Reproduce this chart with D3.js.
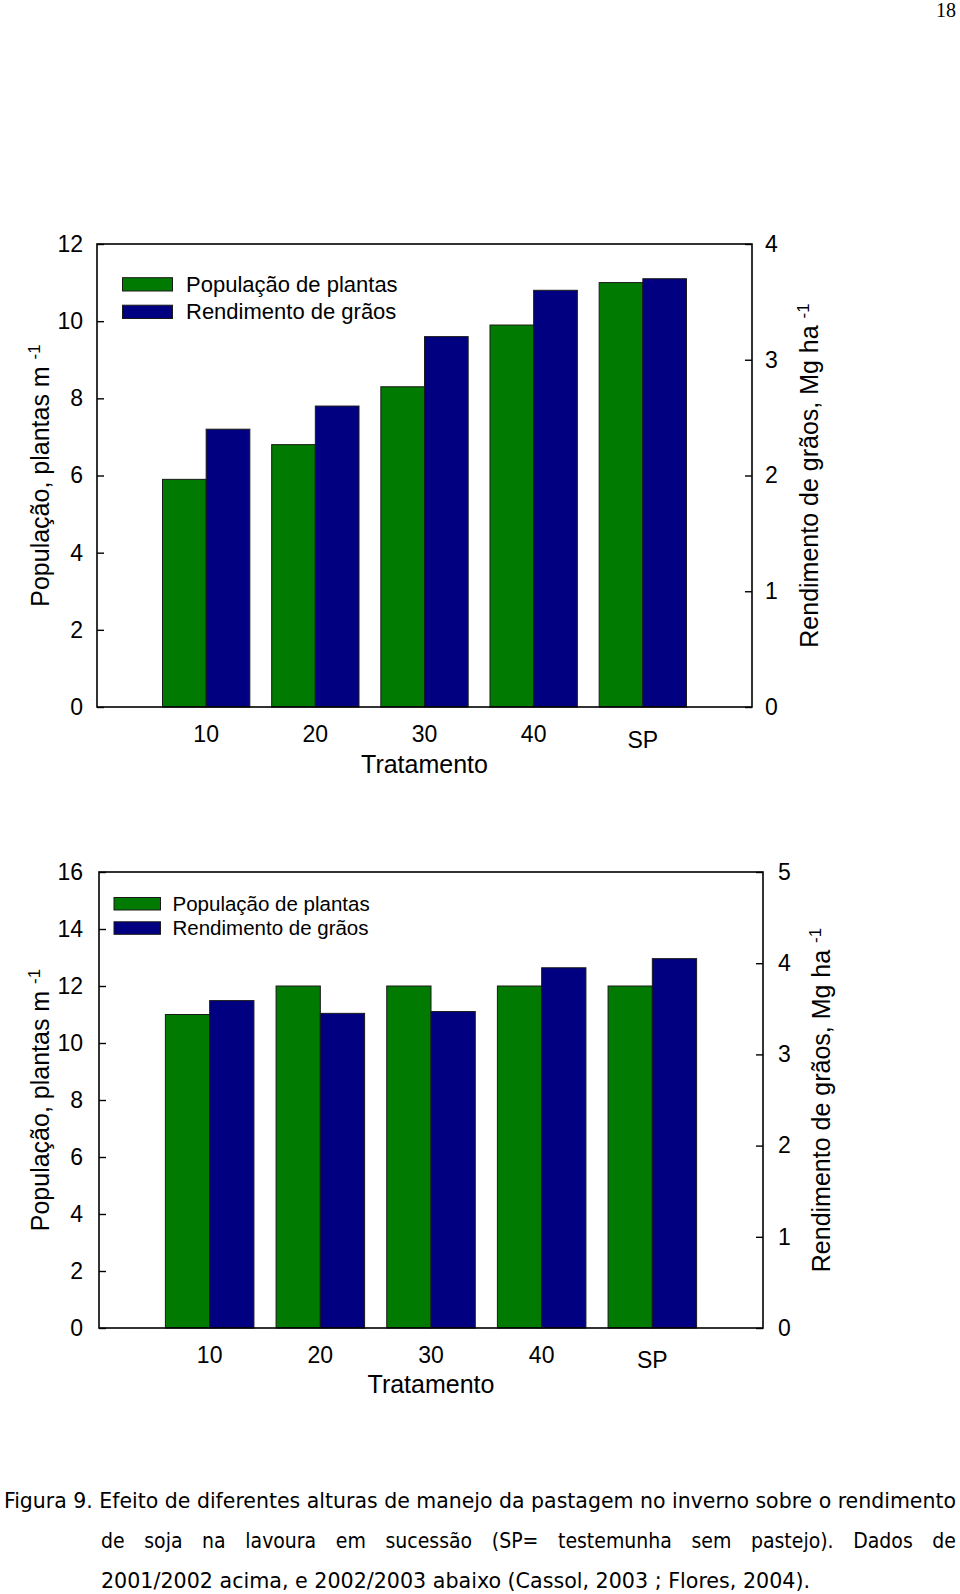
<!DOCTYPE html>
<html>
<head>
<meta charset="utf-8">
<script src="https://cdn.jsdelivr.net/npm/d3@7"></script>
<style>
  html, body { margin: 0; padding: 0; background: #fff; }
  svg { display: block; }
</style>
</head>
<body>
<script>
// ---------------- DATA ----------------
const categories = ["10", "20", "30", "40", "SP"];
const seriesNames = ["População de plantas", "Rendimento de grãos"];
const pop2001 = [5.9, 6.8, 8.3, 9.9, 11.0];        // plantas m-1 (left axis)
const yield2001 = [2.40, 2.60, 3.20, 3.60, 3.70];  // Mg ha-1 (right axis)
const pop2002 = [11.0, 12.0, 12.0, 12.0, 12.0];
const yield2002 = [3.59, 3.45, 3.47, 3.95, 4.05];
const leftTicks2001 = [0, 2, 4, 6, 8, 10, 12];
const rightTicks2001 = [0, 1, 2, 3, 4];
const leftTicks2002 = [0, 2, 4, 6, 8, 10, 12, 14, 16];
const rightTicks2002 = [0, 1, 2, 3, 4, 5];
const xTitle = "Tratamento";
const yLeftTitle = "População, plantas m";
const yRightTitle = "Rendimento de grãos, Mg ha";
const unitExp = "-1";
const captionLines = [
  "Figura 9. Efeito de diferentes alturas de manejo da pastagem no inverno sobre o rendimento",
  "de soja na lavoura em sucessão (SP= testemunha sem pastejo). Dados de",
  "2001/2002 acima, e 2002/2003 abaixo (Cassol, 2003 ; Flores, 2004)."
];
const pageNumber = "18";

// ---------------- STYLE / LAYOUT ----------------
const W = 960, H = 1594;
const colors = ["#007a00", "#000080"];
const FONT = "'Liberation Sans', Arial, Helvetica, sans-serif";

const svg = d3.select("body").append("svg")
  .attr("width", W).attr("height", H)
  .attr("viewBox", `0 0 ${W} ${H}`)
  .style("font-family", FONT);
svg.append("rect").attr("width", W).attr("height", H).attr("fill", "#fff");

function drawChart(cfg) {
  const g = svg.append("g");
  const x = d3.scaleBand().domain(categories)
    .range([cfg.left, cfg.right]).paddingInner(0.2).paddingOuter(0.6);
  const xs = d3.scaleBand().domain([0, 1]).range([0, x.bandwidth()]);
  const yL = d3.scaleLinear().domain([0, d3.max(cfg.leftTicks)]).range([cfg.bottom, cfg.top]);
  const yR = d3.scaleLinear().domain([0, d3.max(cfg.rightTicks)]).range([cfg.bottom, cfg.top]);

  const rows = categories.map((c, i) => ({ c, vals: [cfg.pop[i], cfg.yld[i]] }));

  // bars
  const grp = g.selectAll("g.grp").data(rows).join("g")
    .attr("transform", d => `translate(${x(d.c)},0)`);
  grp.selectAll("rect").data(d => d.vals.map((v, k) => ({ v, k }))).join("rect")
    .attr("x", d => xs(d.k))
    .attr("width", xs.bandwidth())
    .attr("y", d => (d.k === 0 ? yL : yR)(d.v))
    .attr("height", d => cfg.bottom - (d.k === 0 ? yL : yR)(d.v))
    .attr("fill", d => colors[d.k])
    .attr("stroke", "#1a1a1a").attr("stroke-width", 1);

  // frame
  g.append("rect")
    .attr("x", cfg.left).attr("y", cfg.top)
    .attr("width", cfg.right - cfg.left).attr("height", cfg.bottom - cfg.top)
    .attr("fill", "none").attr("stroke", "#000").attr("stroke-width", 1.6);

  // left axis
  const axL = g.append("g").attr("transform", `translate(${cfg.left},0)`)
    .call(d3.axisLeft(yL).tickValues(cfg.leftTicks).tickFormat(d3.format("d"))
      .tickSize(-7).tickSizeOuter(0).tickPadding(cfg.leftPad));
  axL.select(".domain").remove();
  axL.selectAll("line").attr("stroke", "#000").attr("stroke-width", 1.4);
  axL.selectAll("text").attr("font-size", 23).attr("fill", "#000").style("font-family", FONT);

  // right axis
  const axR = g.append("g").attr("transform", `translate(${cfg.right},0)`)
    .call(d3.axisRight(yR).tickValues(cfg.rightTicks).tickFormat(d3.format("d"))
      .tickSize(-7).tickSizeOuter(0).tickPadding(cfg.rightPad));
  axR.select(".domain").remove();
  axR.selectAll("line").attr("stroke", "#000").attr("stroke-width", 1.4);
  axR.selectAll("text").attr("font-size", 23).attr("fill", "#000").style("font-family", FONT);

  // bottom axis (labels only)
  const axB = g.append("g").attr("transform", `translate(0,${cfg.bottom})`)
    .call(d3.axisBottom(x).tickSize(0).tickSizeOuter(0));
  axB.select(".domain").remove();
  axB.selectAll("line").remove();
  axB.selectAll("text")
    .attr("font-size", 23).attr("fill", "#000").style("font-family", FONT)
    .attr("dy", 0)
    .attr("y", d => d === "SP" ? cfg.spTickDy : cfg.tickDy);

  // x title
  g.append("text")
    .attr("x", (cfg.left + cfg.right) / 2).attr("y", cfg.titleY)
    .attr("text-anchor", "middle").attr("font-size", 25).text(xTitle);

  const cy = (cfg.top + cfg.bottom) / 2;
  // left y title
  const tl = g.append("text")
    .attr("transform", `translate(${cfg.yLeftX},${cy}) rotate(-90)`)
    .attr("text-anchor", "middle").attr("font-size", 25);
  tl.append("tspan").text(yLeftTitle + " ");
  tl.append("tspan").attr("font-size", 17).attr("dy", -9).text(unitExp);

  // right y title
  const tr = g.append("text")
    .attr("transform", `translate(${cfg.yRightX},${cy}) rotate(-90)`)
    .attr("text-anchor", "middle").attr("font-size", 25);
  tr.append("tspan").text(yRightTitle + " ");
  tr.append("tspan").attr("font-size", 17).attr("dy", -9).text(unitExp);

  // legend
  const L = cfg.legend;
  seriesNames.forEach((name, k) => {
    const yb = L.y + k * L.gap;
    g.append("rect")
      .attr("x", L.x).attr("y", yb - L.h)
      .attr("width", L.w).attr("height", L.h)
      .attr("fill", colors[k]).attr("stroke", "#1a1a1a").attr("stroke-width", 1);
    g.append("text")
      .attr("x", L.textX).attr("y", yb + 0.5)
      .attr("font-size", L.fs).text(name);
  });
}

drawChart({
  pop: pop2001, yld: yield2001, leftTicks: leftTicks2001, rightTicks: rightTicks2001,
  left: 97, right: 752, top: 244, bottom: 707,
  leftPad: 14, rightPad: 13, tickDy: 35, spTickDy: 41, titleY: 773,
  yLeftX: 49, yRightX: 818,
  legend: { x: 122.5, y: 291, w: 50, h: 13.3, gap: 27.5, textX: 186, fs: 22 }
});

drawChart({
  pop: pop2002, yld: yield2002, leftTicks: leftTicks2002, rightTicks: rightTicks2002,
  left: 99, right: 763, top: 872, bottom: 1328,
  leftPad: 16, rightPad: 15, tickDy: 35, spTickDy: 40, titleY: 1393,
  yLeftX: 49, yRightX: 830,
  legend: { x: 114, y: 910, w: 46.5, h: 12.5, gap: 24.3, textX: 172.5, fs: 20.5 }
});

// caption
const capFont = "'Liberation Sans Narrow', 'DejaVu Sans Condensed', 'Roboto Condensed', 'Liberation Sans', Arial, sans-serif";
const capSpec = [
  { x: 4, y: 1508, w: 952, justify: true },
  { x: 101, y: 1548, w: 855, justify: true },
  { x: 101, y: 1588, w: 709, justify: false }
];
captionLines.forEach((line, i) => {
  const s = capSpec[i];
  const t = svg.append("text")
    .attr("x", s.x).attr("y", s.y)
    .attr("font-size", 21)
    .style("font-family", capFont)
    .style("font-stretch", "condensed")
    .text(line);
  const nat = t.node().getComputedTextLength();
  const spaces = (line.match(/ /g) || []).length;
  if (s.justify && nat < s.w && i === 1) {
    t.attr("word-spacing", (s.w - nat) / spaces);
  } else {
    t.attr("textLength", s.w).attr("lengthAdjust", "spacingAndGlyphs");
  }
});

// page number
svg.append("text")
  .attr("x", 956).attr("y", 17)
  .attr("text-anchor", "end")
  .attr("font-size", 20)
  .style("font-family", "'Liberation Serif', 'Times New Roman', serif")
  .text(pageNumber);
</script>
</body>
</html>
